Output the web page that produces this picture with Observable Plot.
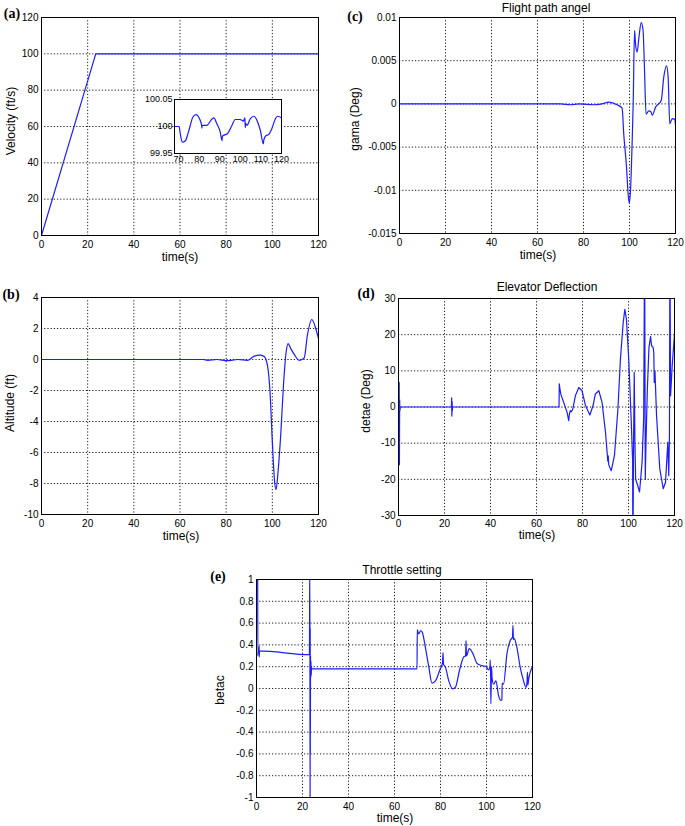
<!DOCTYPE html>
<html><head><meta charset="utf-8">
<script src="https://cdn.jsdelivr.net/npm/d3@7"></script>
<script src="https://cdn.jsdelivr.net/npm/@observablehq/plot@0.6"></script>
<style>
body{margin:0;background:#fff;}
#fig{position:relative;width:685px;height:826px;overflow:hidden;font-family:"Liberation Sans",Arial,sans-serif;background:#fff;}
#fig svg{position:absolute;background:transparent;overflow:visible;}
.lbl{position:absolute;font-size:12px;white-space:nowrap;color:#000;line-height:1;}
.tag{position:absolute;font-family:"Liberation Serif","Times New Roman",serif;font-weight:bold;font-size:14px;line-height:1;color:#000;}
</style></head><body><div id="fig"></div>
<script>
// ---- data ----
const timeTicks = [0, 20, 40, 60, 80, 100, 120];
const velTicks = [0, 20, 40, 60, 80, 100, 120];
const insetXTicks = [70, 80, 90, 100, 110, 120];
const insetYTicks = [99.95, 100, 100.05];
const gamTicks = [-0.015, -0.01, -0.005, 0, 0.005, 0.01];
const altTicks = [-10, -8, -6, -4, -2, 0, 2, 4];
const elevTicks = [-30, -20, -10, 0, 10, 20, 30];
const thrTicks = [-1, -0.8, -0.6, -0.4, -0.2, 0, 0.2, 0.4, 0.6, 0.8, 1];

const velT = [0, 23.5, 120];
const velV = [0, 100, 100];

const insetT = [68, 70.3, 70.6, 71.2, 71.9, 73.2, 74.8, 76.9, 78.4, 80.2, 81.2, 81.3, 81.4, 83.7, 86.2, 87.1, 88.6, 90.2, 91.1, 91.3, 92.1, 93.8, 95.9, 97.5, 99.9, 101.5, 102.2, 102.4, 102.6, 103.2, 104.8, 106.7, 108, 109.7, 111.2, 111.4, 112.4, 113.7, 115.3, 117, 118, 120];
const insetV = [100, 100, 99.992, 99.978, 99.971, 99.973, 99.99, 100.017, 100.022, 100.014, 100.002, 99.997, 100.002, 100.002, 100.014, 100.016, 100.005, 99.99, 99.974, 99.982, 99.984, 99.987, 100.002, 100.013, 100.013, 100.01, 100.016, 99.998, 100.006, 100.002, 100.014, 100.019, 100.012, 99.993, 99.968, 99.975, 99.983, 99.985, 99.996, 100.014, 100.019, 100.016];

const gamT = [0, 70, 74.3, 78, 84.5, 88, 91, 94.6, 96.8, 97.5, 98.7, 99.3, 99.9, 100.4, 101.2, 101.6, 102.2, 102.6, 103.3, 104.1, 105.1, 105.9, 106.5, 107.2, 108.4, 109.3, 109.9, 111.3, 113.8, 114.9, 116.1, 116.8, 117.5, 118.6, 119.7, 120];
const gamV = [0, 0, -0.0001, 0, -0.0001, 0, 0.0002, -0.0001, -0.0005, -0.0035, -0.0073, -0.01, -0.0115, -0.0102, -0.004, 0, 0.0085, 0.007, 0.006, 0.0077, 0.0094, 0.0085, 0.0042, -0.0012, -0.0008, -0.0009, -0.0013, -0.0004, 0.0004, 0.0031, 0.0044, 0.0031, -0.0023, -0.0017, -0.0018, -0.0025];

const altT = [0, 70, 72, 76, 80.5, 85, 89.2, 92, 94.3, 96.4, 97.9, 99, 100, 101, 101.6, 102.5, 103.7, 104.8, 106, 106.8, 108, 109.7, 111.6, 113.8, 115.2, 117.1, 118.8, 120];
const altV = [0, 0, -0.05, 0, -0.07, 0, -0.05, 0.2, 0.28, 0.2, -0.4, -2.1, -5.3, -7.9, -8.4, -7.2, -4.7, -1.7, 0.5, 1.03, 0.7, 0.28, -0.05, 0.1, 1.57, 2.58, 2.0, 1.35];

const elevT = [0, 0.3, 0.4, 0.5, 0.6, 0.8, 23, 23.1, 23.2, 23.3, 23.4, 23.5, 69.8, 69.9, 70.3, 70.6, 71.8, 73.3, 74, 74.3, 74.7, 75.2, 75.8, 76.9, 78.4, 79.8, 81.3, 83.2, 84.6, 85.6, 87.1, 88.5, 90, 91, 91.2, 91.4, 92.5, 93.9, 95.4, 96.5, 97.7, 98.4, 99.1, 100.1, 101.2, 101.8, 101.9, 102.2, 102.5, 102.8, 103.1, 104, 104.8, 105.9, 106.6, 107, 107.3, 107.6, 108.2, 108.9, 109.6, 110, 110.7, 111, 111.2, 111.5, 112.2, 113.6, 115.1, 116.1, 117.1, 117.5, 117.8, 118, 118.3, 119, 120];
const elevV = [0, 6.8, -16, 2, -1, 0, 0, 2.5, -2.5, 1.5, -1, 0, 0, 6.4, 4.5, 3.5, 1.3, -1.5, -3.8, -2, -1, -1.3, -0.5, 3.1, 5.4, 4.5, 0.4, -2.2, 0.4, 3.6, 4.5, 1.3, -7, -15, -13.5, -16, -17.6, -13.4, -0.5, 13.3, 23.4, 27, 24.3, 13.3, -4.2, -15, -45, -10, 9.6, -10, -19.9, -21.7, -23.5, -15.3, -3, 45, -20, -10, 5, 16.5, 19.5, 17, 16.5, 15, 6.8, 10, -2.4, -17.1, -22.6, -20.8, -9.7, -19, -8, 45, 3.1, 11.4, 20.2];

const thrT = [0.5, 0.6, 0.7, 1.1, 1.15, 1.2, 1.3, 23, 23.2, 23.3, 23.35, 23.4, 23.5, 23.6, 23.7, 23.8, 23.9, 24, 69.8, 69.9, 70.5, 71.3, 72, 73.4, 74.9, 76.3, 77.8, 79.7, 80.9, 81.1, 81.3, 82.1, 83.6, 85.3, 86.5, 88.3, 90.1, 90.9, 91.1, 91.3, 92.5, 94.1, 95.9, 98, 99.9, 100.9, 101.5, 101.6, 101.8, 101.9, 102.2, 102.4, 103.1, 104.1, 105.2, 106.4, 106.7, 106.8, 107.4, 108.9, 110.3, 111.3, 111.5, 111.7, 112, 113.2, 114.6, 116.1, 117.2, 117.6, 117.8, 118, 118.3, 120];
const thrV = [1.1, 0.3, 0.35, 0.345, 0.39, 0.29, 0.345, 0.31, 1.2, -1.2, 0.55, -0.6, 0.3, 0.1, 0.25, 0.12, 0.2, 0.18, 0.18, 0.54, 0.5, 0.53, 0.52, 0.38, 0.2, 0.05, 0.07, 0.17, 0.24, 0.33, 0.22, 0.2, 0.07, -0.003, 0.012, 0.17, 0.29, 0.3, 0.44, 0.3, 0.365, 0.32, 0.23, 0.21, 0.2, 0.17, 0.2, 0.26, 0.1, -0.14, 0.2, 0.1, 0.04, 0.07, -0.06, -0.11, -0.1, 0.05, 0.04, 0.32, 0.44, 0.47, 0.58, 0.45, 0.46, 0.38, 0.2, 0.07, 0.01, 0.05, 0.15, 0.03, 0.08, 0.2];

// ---- drawing ----
const fig = document.getElementById("fig");
const LINE = "#1c1cff";
const fmt = d => String(d);

function panel(o) {
  const data = o.t.map((d, i) => ({t: d, v: o.v[i]}));
  const marks = [];
  if (o.inset) marks.push(Plot.frame({fill: "white", stroke: "none"}));
  if (!o.inset) {
    marks.push(Plot.gridX({ticks: o.xTicks, stroke: "#000", strokeOpacity: 0.9, strokeDasharray: "1.2,2"}));
    marks.push(Plot.gridY({ticks: o.yTicks, stroke: "#000", strokeOpacity: 0.9, strokeDasharray: "1.2,2"}));
  }
  marks.push(Plot.axisX({ticks: o.xTicks, tickSize: 0, tickPadding: o.xPad, tickFormat: fmt, label: null}));
  marks.push(Plot.axisY({ticks: o.yTicks, tickSize: 0, tickPadding: o.yPad, tickFormat: fmt, label: null}));
  marks.push(Plot.line(data, {x: "t", y: "v", stroke: LINE, strokeWidth: 1.2, curve: o.curve || "monotone-x", clip: true}));
  marks.push(Plot.frame({stroke: "#000", strokeWidth: 1}));
  const svg = Plot.plot({
    width: o.w, height: o.h,
    marginLeft: o.ml, marginRight: o.mr, marginTop: o.mt, marginBottom: o.mb,
    x: {domain: o.xDomain}, y: {domain: o.yDomain},
    style: {fontSize: o.fs || "10px", fontFamily: "'Liberation Sans', Arial, sans-serif", background: "transparent", color: "#000", overflow: "visible"},
    marks
  });
  svg.style.left = o.left + "px";
  svg.style.top = o.top + "px";
  fig.appendChild(svg);
}

function text(txt, cx, cy, cls, rot) {
  const d = document.createElement("div");
  d.className = cls;
  d.textContent = txt;
  d.style.left = cx + "px";
  d.style.top = cy + "px";
  d.style.transform = "translate(-50%,-50%)" + (rot ? " rotate(-90deg)" : "");
  fig.appendChild(d);
}

// (a) velocity: frame x 41-318, y 17-235
panel({t: velT, v: velV, left: 0, top: 0, w: 340, h: 262, ml: 41, mr: 22, mt: 17, mb: 27, curve: "linear",
  xDomain: [0, 120], yDomain: [0, 120], xTicks: timeTicks, yTicks: velTicks, xPad: 5, yPad: 3});
// inset: frame x 174-281, y 99-153
panel({t: insetT, v: insetV, left: 130, top: 90, w: 160, h: 80, ml: 44, mr: 9, mt: 9, mb: 17, inset: true,
  xDomain: [68, 120], yDomain: [99.95, 100.05], xTicks: insetXTicks, yTicks: insetYTicks, xPad: 2, yPad: 2, fs: "9px"});
// (c) gamma: frame x 399-675, y 17-233
panel({t: gamT, v: gamV, left: 345, top: 0, w: 340, h: 262, ml: 54, mr: 10, mt: 17, mb: 29,
  xDomain: [0, 120], yDomain: [-0.015, 0.01], xTicks: timeTicks, yTicks: gamTicks, xPad: 5, yPad: 3});
// (b) altitude: frame x 41-318, y 297-514
panel({t: altT, v: altV, left: 0, top: 275, w: 340, h: 262, ml: 41, mr: 22, mt: 22, mb: 23,
  xDomain: [0, 120], yDomain: [-10, 4], xTicks: timeTicks, yTicks: altTicks, xPad: 5, yPad: 3});
// (d) elevator: frame x 398-674, y 298-515
panel({t: elevT, v: elevV, left: 345, top: 275, w: 340, h: 262, ml: 53, mr: 11, mt: 23, mb: 22, curve: "linear",
  xDomain: [0, 120], yDomain: [-30, 30], xTicks: timeTicks, yTicks: elevTicks, xPad: 4, yPad: 3});
// (e) throttle: frame x 256-532, y 579-797
panel({t: thrT, v: thrV, left: 200, top: 555, w: 345, h: 271, ml: 56, mr: 13, mt: 24, mb: 29,
  xDomain: [0, 120], yDomain: [-1, 1], xTicks: timeTicks, yTicks: thrTicks, xPad: 5, yPad: 3});

// texts
text("(a)", 12, 14, "tag");
text("(b)", 11, 295, "tag");
text("(c)", 355, 17, "tag");
text("(d)", 366, 294, "tag");
text("(e)", 218, 577, "tag");
text("Flight path angel", 546, 8, "lbl");
text("Elevator Deflection", 547, 287, "lbl");
text("Throttle setting", 402, 570, "lbl");
text("time(s)", 180, 257, "lbl");
text("time(s)", 538, 255, "lbl");
text("time(s)", 181, 536, "lbl");
text("time(s)", 537, 535, "lbl");
text("time(s)", 395, 818, "lbl");
text("Velocity (ft/s)", 11, 121, "lbl", true);
text("gama (Deg)", 355, 119, "lbl", true);
text("Altitude (ft)", 10, 403, "lbl", true);
text("detae (Deg)", 366, 401, "lbl", true);
text("betac", 220, 690, "lbl", true);
</script></body></html>
